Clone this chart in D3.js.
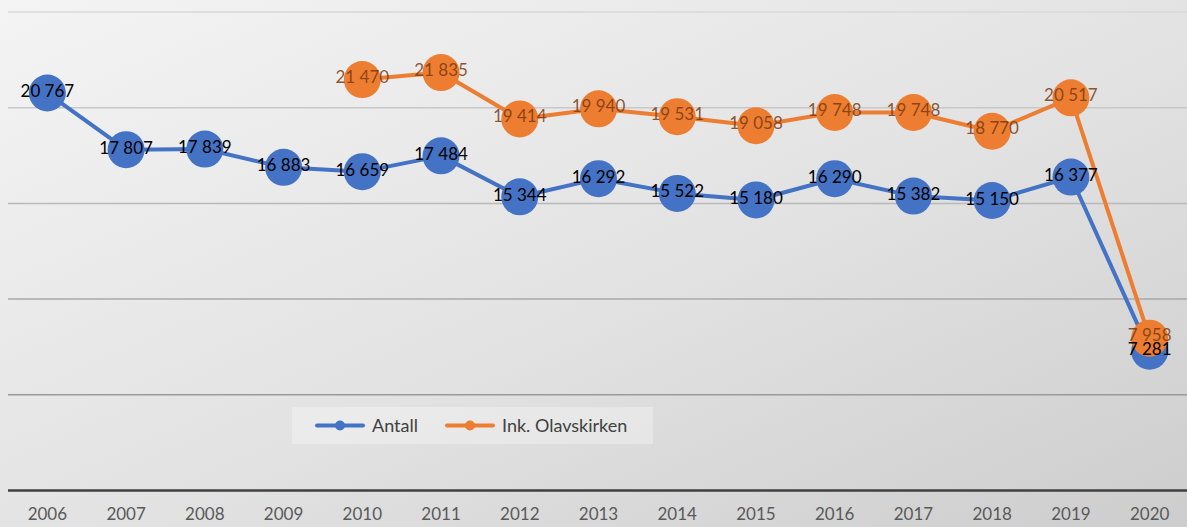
<!DOCTYPE html>
<html>
<head>
<meta charset="utf-8">
<script src="https://cdn.jsdelivr.net/npm/d3@7"></script>
<style>
  body { margin: 0; overflow: hidden; }
  text { font-family: Lato, "Open Sans", sans-serif; }
</style>
</head>
<body>
<div id="chart"></div>
<script>
var years = ["2006","2007","2008","2009","2010","2011","2012","2013","2014","2015","2016","2017","2018","2019","2020"];
var antall = [20767, 17807, 17839, 16883, 16659, 17484, 15344, 16292, 15522, 15180, 16290, 15382, 15150, 16377, 7281];
var inkOlav = [null, null, null, null, 21470, 21835, 19414, 19940, 19531, 19058, 19748, 19748, 18770, 20517, 7958];
var yTicks = [5000, 10000, 15000, 20000, 25000];
var seriesNames = ["Antall", "Ink. Olavskirken"];

var width = 1187, height = 527;
var margin = {left: 8, right: -2, top: 12, bottom: 36};

var svg = d3.select("#chart").append("svg")
    .attr("width", width)
    .attr("height", height);

var defs = svg.append("defs");
var grad = defs.append("linearGradient")
    .attr("id", "bg")
    .attr("x1", "0%").attr("y1", "0%")
    .attr("x2", "100%").attr("y2", "100%");
grad.append("stop").attr("offset", "0%").attr("stop-color", "#f4f4f4");
grad.append("stop").attr("offset", "55%").attr("stop-color", "#e2e2e2");
grad.append("stop").attr("offset", "100%").attr("stop-color", "#cdcdcd");

svg.append("rect")
    .attr("width", width)
    .attr("height", height)
    .attr("fill", "url(#bg)");

var x = d3.scaleBand()
    .domain(years)
    .range([margin.left, width - margin.right]);

var y = d3.scaleLinear()
    .domain([0, 25000])
    .range([height - margin.bottom - 0.5, margin.top]);

var gridColor = d3.scaleLinear()
    .domain([25000, 0])
    .range(["#d8d8d8", "#8a8a8a"]);

// gridlines
svg.append("g")
    .selectAll("line")
    .data(yTicks)
    .enter().append("line")
    .attr("x1", margin.left)
    .attr("x2", width)
    .attr("y1", function(d) { return y(d); })
    .attr("y2", function(d) { return y(d); })
    .attr("stroke", function(d) { return gridColor(d); })
    .attr("stroke-width", 1.5);

// x axis
var xAxis = svg.append("g")
    .attr("transform", "translate(0," + y(0) + ")")
    .call(d3.axisBottom(x).tickSize(0).tickPadding(17));
xAxis.select(".domain")
    .attr("stroke", "#404040")
    .attr("stroke-width", 2.5)
    .attr("d", "M" + margin.left + ",0H" + width);
xAxis.selectAll("text")
    .attr("fill", "#595959")
    .style("font-size", "17px");

var cx = function(i) { return x(years[i]) + x.bandwidth() / 2; };

var series = [
    {name: seriesNames[0], values: antall, color: "#4472c4", labelColor: "#000000", dy: 4},
    {name: seriesNames[1], values: inkOlav, color: "#ed7d31", labelColor: "#7a3a10", dy: 3}
];

var line = d3.line()
    .defined(function(d) { return d != null; })
    .x(function(d, i) { return cx(i); })
    .y(function(d) { return y(d); });

var fmt = function(v) { return d3.format(",")(v).replace(",", " "); };

series.forEach(function(s) {
    var g = svg.append("g");
    g.append("path")
        .datum(s.values)
        .attr("fill", "none")
        .attr("stroke", s.color)
        .attr("stroke-width", 4)
        .attr("stroke-linejoin", "round")
        .attr("d", line);

    s.pts = s.values.map(function(v, i) { return {v: v, i: i}; })
        .filter(function(p) { return p.v != null; });

    g.selectAll("circle")
        .data(s.pts)
        .enter().append("circle")
        .attr("cx", function(p) { return cx(p.i); })
        .attr("cy", function(p) { return y(p.v); })
        .attr("r", 18.5)
        .attr("fill", s.color);
});

// data labels on top of all markers
var labels = svg.append("g");
series.forEach(function(s) {
    labels.append("g").selectAll("text")
        .data(s.pts)
        .enter().append("text")
        .attr("x", function(p) { return cx(p.i); })
        .attr("y", function(p) { return y(p.v) + s.dy; })
        .attr("text-anchor", "middle")
        .attr("fill", s.labelColor)
        .attr("fill-opacity", s.labelColor === "#000000" ? 1 : 0.85)
        .style("font-size", "17px")
        .text(function(p) { return fmt(p.v); });
});

// legend
var legend = svg.append("g").attr("transform", "translate(292,407)");
legend.append("rect")
    .attr("width", 361)
    .attr("height", 37)
    .attr("fill", "#ffffff")
    .attr("fill-opacity", 0.3);

var legendX = [25, 155];
series.forEach(function(s, i) {
    var lg = legend.append("g").attr("transform", "translate(" + legendX[i] + ",18.5)");
    lg.append("line")
        .attr("x1", 0).attr("x2", 46)
        .attr("stroke", s.color)
        .attr("stroke-width", 4)
        .attr("stroke-linecap", "round");
    lg.append("circle")
        .attr("cx", 23)
        .attr("r", 5)
        .attr("fill", s.color);
    lg.append("text")
        .attr("x", 55)
        .attr("dy", "0.35em")
        .attr("fill", "#404040")
        .style("font-size", "18px")
        .text(s.name);
});
</script>
</body>
</html>
